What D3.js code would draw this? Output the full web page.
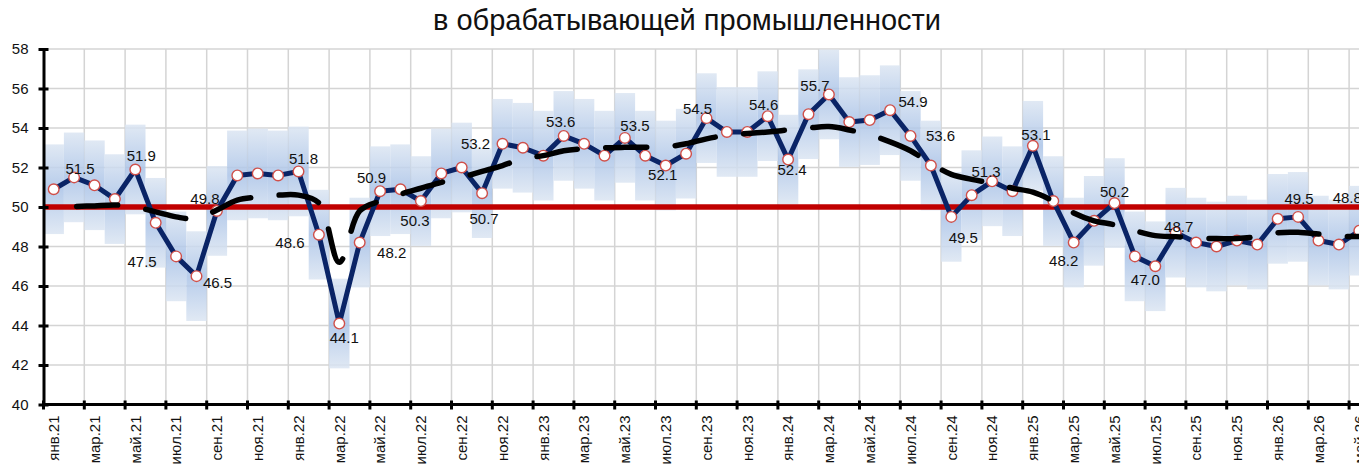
<!DOCTYPE html>
<html>
<head>
<meta charset="utf-8">
<title>в обрабатывающей промышленности</title>
<script src="https://cdn.jsdelivr.net/npm/d3@7"></script>
<style>
  body { margin: 0; background: #fff; }
  svg text { font-family: "Liberation Sans", Arial, sans-serif; fill: #111; }
</style>
</head>
<body>
<div id="chart"></div>
<script>
// month names and years for the category axis
var monthNames = ["янв", "фев", "мар", "апр", "май", "июн", "июл", "авг", "сен", "окт", "ноя", "дек"];
var years = ["21", "22", "23", "24", "25", "26"];

// PMI, янв.21 .. май.26
var pmi = [50.9, 51.5, 51.1, 50.4, 51.9, 49.2, 47.5, 46.5, 49.8, 51.6, 51.7, 51.6,
           51.8, 48.6, 44.1, 48.2, 50.8, 50.9, 50.3, 51.7, 52.0, 50.7, 53.2, 53.0,
           52.6, 53.6, 53.2, 52.6, 53.5, 52.6, 52.1, 52.7, 54.5, 53.8, 53.8, 54.6,
           52.4, 54.7, 55.7, 54.3, 54.4, 54.9, 53.6, 52.1, 49.5, 50.6, 51.3, 50.8,
           53.1, 50.3, 48.2, 49.3, 50.2, 47.5, 47.0, 48.7, 48.2, 48.0, 48.3, 48.1,
           49.4, 49.5, 48.3, 48.1, 48.8];

// trend (black dashed line)
var trend = [49.6, 50.0, 50.05, 50.1, 50.0, 49.75, 49.5, 49.4, 49.85, 50.35, 50.5, 50.6,
             50.6, 50.2, 47.2, 49.8, 50.3, 50.65, 50.95, 51.25, 51.5, 51.8, 52.1, 52.45,
             52.6, 52.85, 52.95, 53.0, 53.02, 53.03, 53.05, 53.2, 53.45, 53.63, 53.72, 53.8,
             53.9, 54.0, 54.07, 53.9, 53.65, 53.3, 52.85, 52.2, 51.65, 51.4, 51.2, 50.95,
             50.75, 50.3, 49.7, 49.3, 49.1, 48.8, 48.55, 48.5, 48.43, 48.4, 48.41, 48.5,
             48.7, 48.72, 48.63, 48.53, 48.5];

// half height of the shaded range around each value
var bandHalf = 2.27;

// which points carry a value label
var labelIdx = [1, 4, 6, 7, 8, 12, 13, 14, 15, 17, 18, 21, 22, 25, 28, 30, 32, 35, 36, 38,
                41, 42, 44, 46, 48, 50, 52, 54, 55, 61, 64];
// label offsets from the point centre
var labelDx = [6, 6, -34, 21, -12, 5, -29, 5, 32, -29, -6, 2, -27, -3, 10, -3, -9, -4, 4, -14,
               23, 30, 12, -6, 3, -10, 0, -10, 3, 1, -12];
var labelDy = [-9, -14, 5, 7, -12, -13, 8, 14, 10, -11, 20, 26, 0, -14, -12, 9, -9, -11, 10, -9,
               -8, 0, 21, -10, -11, 18, -11, 13, -6, -18, -33];

var cats = [];
years.forEach(function(yy) {
    monthNames.forEach(function(m) { cats.push(m + "." + yy); });
});
cats = cats.slice(0, pmi.length);

var width = 1359, height = 468;
var plotLeft = 43.5, plotBottom = 404.5, plotTop = 49;
var step = 20.4;

var svg = d3.select("#chart").append("svg")
    .attr("width", width)
    .attr("height", height);

var defs = svg.append("defs");
var grad = defs.append("linearGradient")
    .attr("id", "bandGrad")
    .attr("x1", 0).attr("y1", 0).attr("x2", 0).attr("y2", 1);
grad.append("stop").attr("offset", "0%").attr("stop-color", "#dbe5f2");
grad.append("stop").attr("offset", "50%").attr("stop-color", "#aac3e7");
grad.append("stop").attr("offset", "100%").attr("stop-color", "#dbe5f2");

var x = d3.scaleBand()
    .domain(d3.range(pmi.length))
    .range([plotLeft, plotLeft + step * pmi.length])
    .padding(0);
var bw = x.bandwidth();
var plotRight = plotLeft + step * pmi.length;

var y = d3.scaleLinear().domain([40, 58]).range([plotBottom, plotTop]);

var evenIdx = d3.range(0, pmi.length, 2);

// title
svg.append("text")
    .attr("x", 687)
    .attr("y", 30)
    .attr("text-anchor", "middle")
    .style("font-size", "29px")
    .text("в обрабатывающей промышленности");

// grid
var grid = svg.append("g").attr("stroke", "#d4d4d4").attr("stroke-width", 1.5);
grid.selectAll("line.h")
    .data(d3.range(42, 59, 2))
    .enter().append("line")
    .attr("class", "h")
    .attr("x1", plotLeft).attr("x2", plotRight)
    .attr("y1", function(d) { return y(d); })
    .attr("y2", function(d) { return y(d); });
grid.selectAll("line.v")
    .data(evenIdx.slice(1))
    .enter().append("line")
    .attr("class", "v")
    .attr("x1", function(d) { return x(d); })
    .attr("x2", function(d) { return x(d); })
    .attr("y1", plotTop).attr("y2", plotBottom);

// shaded ranges
svg.append("g").selectAll("rect")
    .data(pmi)
    .enter().append("rect")
    .attr("x", function(d, i) { return x(i); })
    .attr("width", bw)
    .attr("y", function(d) { return y(d + bandHalf); })
    .attr("height", function(d) { return y(d - bandHalf) - y(d + bandHalf); })
    .attr("fill", "url(#bandGrad)")
    .attr("opacity", 0.85);

// 50 line
svg.append("line")
    .attr("x1", plotLeft).attr("x2", plotRight)
    .attr("y1", y(50)).attr("y2", y(50))
    .attr("stroke", "#c00000")
    .attr("stroke-width", 5.5);

// main line
var line = d3.line()
    .x(function(d, i) { return x(i) + bw / 2; })
    .y(function(d) { return y(d); });

svg.append("path")
    .datum(pmi)
    .attr("d", line)
    .attr("fill", "none")
    .attr("stroke", "#0a2466")
    .attr("stroke-width", 5)
    .attr("stroke-linejoin", "round");

svg.append("g").selectAll("circle")
    .data(pmi)
    .enter().append("circle")
    .attr("cx", function(d, i) { return x(i) + bw / 2; })
    .attr("cy", function(d) { return y(d); })
    .attr("r", 5.3)
    .attr("fill", "#fff")
    .attr("stroke", "#d0504a")
    .attr("stroke-width", 1.4);

// trend
var trendLine = d3.line()
    .curve(d3.curveCatmullRom.alpha(0.5))
    .x(function(d, i) { return x(i) + bw / 2; })
    .y(function(d) { return y(d); });

svg.append("path")
    .datum(trend)
    .attr("d", trendLine)
    .attr("fill", "none")
    .attr("stroke", "#000")
    .attr("stroke-width", 5.5)
    .attr("stroke-linecap", "round")
    .attr("stroke-dasharray", "41 28.5")
    .attr("stroke-dashoffset", 45);

// value labels
svg.append("g").selectAll("text")
    .data(labelIdx)
    .enter().append("text")
    .attr("x", function(d, k) { return x(d) + bw / 2 + labelDx[k]; })
    .attr("y", function(d, k) { return y(pmi[d]) + labelDy[k]; })
    .attr("dy", "0.35em")
    .attr("text-anchor", "middle")
    .style("font-size", "15px")
    .text(function(d) { return pmi[d].toFixed(1); });

// y axis
var yAxis = svg.append("g")
    .attr("transform", "translate(" + plotLeft + ",0)")
    .call(d3.axisLeft(y).tickValues(d3.range(40, 59, 2)).tickSize(5).tickPadding(10).tickSizeOuter(0));
yAxis.select(".domain").attr("stroke", "#000").attr("stroke-width", 3);
yAxis.selectAll(".tick line").attr("x1", 5).attr("x2", -5).attr("stroke", "#000").attr("stroke-width", 3);
yAxis.selectAll(".tick text").style("font-size", "15px").attr("font-family", null);

// x axis
var xAxis = svg.append("g")
    .attr("transform", "translate(0," + plotBottom + ")")
    .call(d3.axisBottom(x).tickValues(evenIdx).tickFormat(function(i) { return cats[i]; }).tickSize(0).tickSizeOuter(0));
xAxis.select(".domain").attr("d", "M" + plotLeft + ",0H" + plotRight).attr("stroke", "#000").attr("stroke-width", 3);
xAxis.selectAll(".tick text")
    .attr("transform", "rotate(-90)")
    .attr("text-anchor", "end")
    .attr("x", -11)
    .attr("y", 0)
    .attr("dy", "0.35em")
    .attr("font-family", null)
    .style("font-size", "15px");
xAxis.selectAll("line.mark")
    .data(evenIdx)
    .enter().append("line")
    .attr("class", "mark")
    .attr("x1", function(d) { return x(d); })
    .attr("x2", function(d) { return x(d); })
    .attr("y1", -4).attr("y2", 5)
    .attr("stroke", "#000")
    .attr("stroke-width", 3);
</script>
</body>
</html>
